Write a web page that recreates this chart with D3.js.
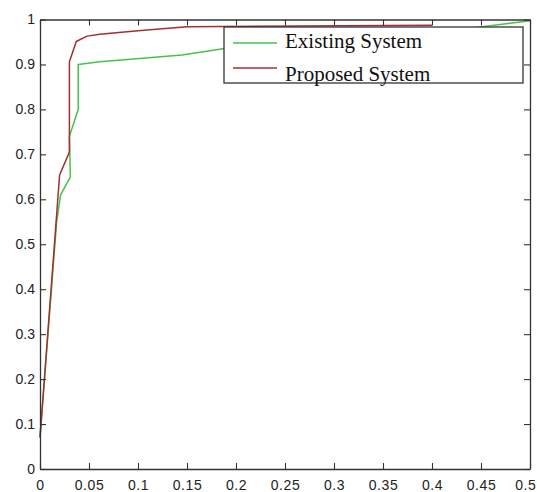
<!DOCTYPE html>
<html>
<head>
<meta charset="utf-8">
<script src="https://cdn.jsdelivr.net/npm/d3@7"></script>
<style>
  html, body { margin: 0; padding: 0; background: #fff; }
  svg { display: block; }
</style>
</head>
<body>
<svg id="chart" width="537" height="492"></svg>
<script>
// ---- data ----
const existingX = [0, 0.017, 0.021, 0.031, 0.030, 0.039, 0.039, 0.061, 0.145, 0.19, 0.30, 0.445, 0.5];
const existingY = [0.07, 0.55, 0.61, 0.65, 0.74, 0.80, 0.90, 0.906, 0.921, 0.936, 0.955, 0.982, 0.997];
const proposedX = [0, 0.020, 0.030, 0.030, 0.037, 0.048, 0.061, 0.10, 0.15, 0.40];
const proposedY = [0.07, 0.654, 0.705, 0.906, 0.951, 0.963, 0.967, 0.975, 0.984, 0.987];
const xTicks = [0, 0.05, 0.1, 0.15, 0.2, 0.25, 0.3, 0.35, 0.4, 0.45, 0.5];
const yTicks = [0, 0.1, 0.2, 0.3, 0.4, 0.5, 0.6, 0.7, 0.8, 0.9, 1];
const legendLabels = ["Existing System", "Proposed System"];
const seriesColors = ["#47c247", "#a3302f"];

// ---- layout ----
const mLeft = 40, mRight = 530, mTop = 19.5, mBottom = 469;
const svg = d3.select("#chart");
const x = d3.scaleLinear().domain([0, 0.5]).range([mLeft, mRight]);
const y = d3.scaleLinear().domain([0, 1]).range([mBottom, mTop]);
const fmt = d => String(d);

const series = [
  existingX.map((v, i) => [v, existingY[i]]),
  proposedX.map((v, i) => [v, proposedY[i]])
];
const line = d3.line().x(d => x(d[0])).y(d => y(d[1]));

svg.append("g").selectAll("path").data(series).join("path")
  .attr("d", line)
  .attr("fill", "none")
  .attr("stroke", (d, i) => seriesColors[i])
  .attr("stroke-width", 1.5)
  .attr("stroke-linejoin", "round");

// ---- axes ----
const axisColor = "#333";
function style(g, showLabels) {
  g.select(".domain").attr("stroke", axisColor).attr("stroke-width", 1.3);
  g.selectAll(".tick line").attr("stroke", axisColor).attr("stroke-width", 1.1);
  g.selectAll(".tick text").attr("fill", "#222")
    .style("font-family", "'Liberation Sans', Arial, sans-serif")
    .style("font-size", "14px");
  if (!showLabels) g.selectAll(".tick text").remove();
}
svg.append("g").attr("transform", `translate(0,${mBottom})`)
  .call(d3.axisBottom(x).tickValues(xTicks).tickFormat(fmt).tickSize(-6).tickSizeOuter(0).tickPadding(11))
  .call(g => style(g, true))
  .call(g => g.selectAll(".tick text").attr("letter-spacing", "0.6px"))
  .call(g => g.selectAll(".tick text").filter(d => d === 0.5).attr("text-anchor", "end").attr("x", 6));
svg.append("g").attr("transform", `translate(0,${mTop})`)
  .call(d3.axisTop(x).tickValues(xTicks).tickSize(-6).tickSizeOuter(0))
  .call(g => style(g, false));
svg.append("g").attr("transform", `translate(${mLeft},0)`)
  .call(d3.axisLeft(y).tickValues(yTicks).tickFormat(fmt).tickSize(-6).tickSizeOuter(0).tickPadding(5))
  .call(g => style(g, true));
svg.append("g").attr("transform", `translate(${mRight},0)`)
  .call(d3.axisRight(y).tickValues(yTicks).tickSize(-6).tickSizeOuter(0))
  .call(g => style(g, false));

// ---- legend ----
const lg = svg.append("g");
lg.append("rect").attr("x", 224).attr("y", 27).attr("width", 299).attr("height", 56)
  .attr("fill", "#fff").attr("stroke", "#333").attr("stroke-width", 1.3);
const rowsY = [43, 68];
const textY = [48, 81];
legendLabels.forEach((lab, i) => {
  lg.append("line").attr("x1", 233).attr("x2", 277).attr("y1", rowsY[i]).attr("y2", rowsY[i])
    .attr("stroke", seriesColors[i]).attr("stroke-width", 1.5);
  lg.append("text").attr("x", 285).attr("y", textY[i]).text(lab)
    .attr("fill", "#111")
    .style("font-family", "'Liberation Serif', 'Times New Roman', serif")
    .style("font-size", "21px");
});
</script>
</body>
</html>
